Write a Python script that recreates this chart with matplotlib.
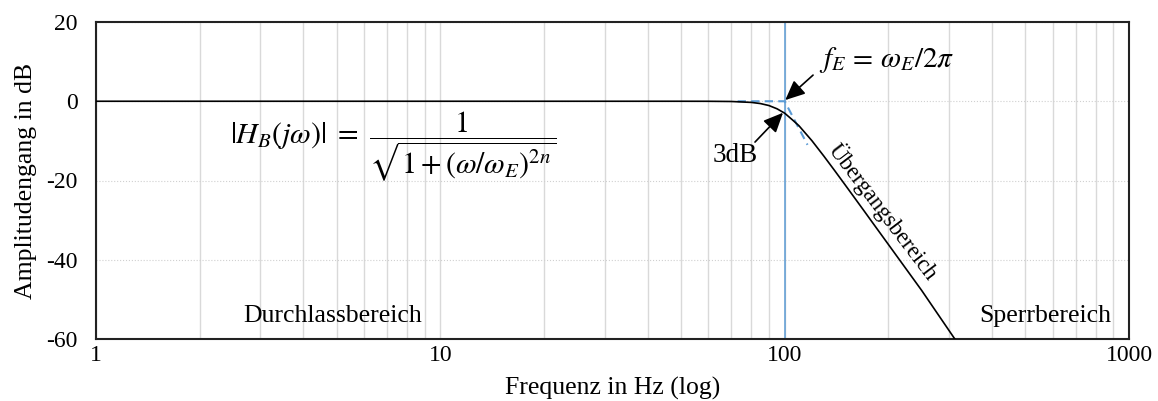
import matplotlib
matplotlib.use("Agg")
import matplotlib.pyplot as plt

# Data
freq_hz = [1, 10, 50, 60, 70, 80, 85, 90, 95, 100, 105, 110, 120, 130, 140, 150, 170, 180,
           200, 250, 312]
gain_db = [0, 0, -0.001, -0.01, -0.06, -0.29, -0.58, -1.08, -1.9, -3.01, -4.6, -6.17, -9.96,
           -13.86, -17.61, -21.16, -27.65, -30.64, -36.12, -47.75, -60.0]
asym_freq = [73, 100, 116.5]
asym_db = [0, 0, -11]
f_edge = 100
xticks = [1, 10, 100, 1000]
yticks = [20, 0, -20, -40, -60]

plt.rcParams['font.family'] = ['Liberation Serif', 'DejaVu Serif']
plt.rcParams['mathtext.fontset'] = 'stix'

fig = plt.figure(figsize=(11.58, 4.01), dpi=100)
ax = fig.add_axes([96/1158, 1-339/401, (1129-96)/1158, (339-22)/401])
ax.set_xscale('log')
ax.set_xlim(1, 1000)
ax.set_ylim(-60, 20)

ax.grid(True, which='both', axis='x', color='#d9d9d9', linewidth=1.0, linestyle='-')
ax.grid(True, which='major', axis='y', color='#d0d0d0', linewidth=0.8, linestyle=':')
ax.set_axisbelow(True)

ax.axvline(f_edge, color='#5b9bd5', linewidth=1.1, zorder=2)
ax.plot(asym_freq, asym_db, color='#5b9bd5', linestyle=(0, (4, 2.5)), linewidth=1.5, zorder=3)
ax.plot(freq_hz, gain_db, color='black', linewidth=1.2, zorder=4)

ax.set_xticks(xticks)
ax.set_xticklabels([str(t) for t in xticks])
ax.set_yticks(yticks)
ax.set_yticklabels([str(t) for t in yticks])
ax.xaxis.set_minor_formatter(matplotlib.ticker.NullFormatter())
ax.tick_params(axis='both', which='both', length=0, labelsize=17)
ax.tick_params(axis='y', pad=13)
ax.tick_params(axis='x', pad=4)

for s in ax.spines.values():
    s.set_linewidth(1.5)
    s.set_color('#222222')

ax.set_xlabel('Frequenz in Hz (log)', fontsize=18.5, labelpad=8)
ax.set_ylabel('Amplitudengang in dB', fontsize=18.5, labelpad=7)

ax.text(7.29, -11.3, r'$|H_B(j\omega)|\ =\ \dfrac{1}{\sqrt{1+(\omega/\omega_E)^{2n}}}$',
        fontsize=21.5, ha='center', va='center')
ax.text(4.88, -54.3, 'Durchlassbereich', fontsize=18.5, ha='center', va='center')
ax.text(570, -54.3, 'Sperrbereich', fontsize=18.5, ha='center', va='center')
ax.text(194, -27.9, 'Übergangsbereich', fontsize=16.5, ha='center', va='center',
        rotation=-52.7, rotation_mode='anchor')

arrow = dict(arrowstyle='-|>,head_length=0.6,head_width=0.27', color='black',
             lw=1.2, shrinkA=0, shrinkB=0, mutation_scale=20)
ax.text(198, 10.4, r'$f_E\,=\,\omega_E/2\pi$', fontsize=21, ha='center', va='center')
ax.annotate('', xy=(100.4, 0.3), xytext=(120.9, 6.6), arrowprops=arrow)
ax.text(71.8, -13.6, '3dB', fontsize=19.5, ha='center', va='center')
ax.annotate('', xy=(98.9, -2.9), xytext=(82.0, -10.3), arrowprops=arrow)

fig.savefig('out.png', dpi=100)
